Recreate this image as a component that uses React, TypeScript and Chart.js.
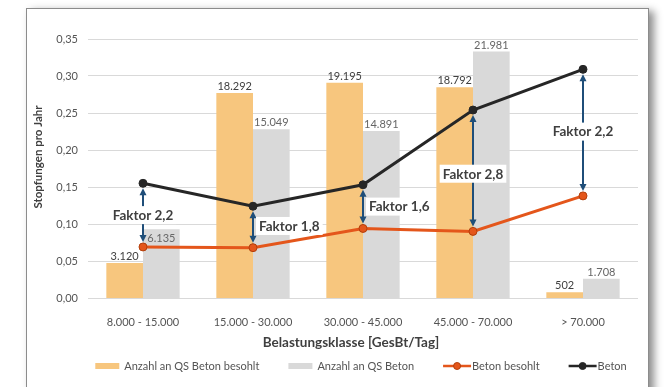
import React, { useEffect, useRef } from "react";
import { Chart, registerables } from "chart.js";

Chart.register(...registerables);

// Load classes (vehicle loads per day)
const categories = ["8.000 - 15.000", "15.000 - 30.000", "30.000 - 45.000", "45.000 - 70.000", "> 70.000"];
// Number of cross sections (bars, secondary hidden axis)
const qsBetonBesohlt = [3120, 18292, 19195, 18792, 502];
const qsBeton = [6135, 15049, 14891, 21981, 1708];
// Tamping operations per year (lines, primary axis)
const stopfBetonBesohlt = [0.069, 0.068, 0.094, 0.09, 0.138];
const stopfBeton = [0.155, 0.124, 0.153, 0.254, 0.309];
// Ratio annotations between both lines
const factorLabels = ["Faktor 2,2", "Faktor 1,8", "Faktor 1,6", "Faktor 2,8", "Faktor 2,2"];

const xTitle = "Belastungsklasse [GesBt/Tag]";
const yTitle = "Stopfungen pro Jahr";

const FONT = "Lato, 'Open Sans', sans-serif";
const TEXT = "#545454";
const DARK = "#3F3F3F";
const ORANGE_BAR = "#F7C67E";
const GRAY_BAR = "#D9D9D9";
const ORANGE_LINE = "#E4561B";
const BLACK_LINE = "#262626";
const ARROW = "#1F4E79";

const fmtThousands = (n: number) => String(n).replace(/\B(?=(\d{3})+(?!\d))/g, ".");

const overlayPlugin = {
  id: "overlay",
  afterDatasetsDraw(chart: any, _args: any, opts: any) {
    const { ctx, scales } = chart;
    const xs = scales.x;
    const ys = scales.y;

    // value labels above the bars
    ctx.save();
    ctx.font = `11px ${FONT}`;
    ctx.textAlign = "center";
    ctx.textBaseline = "middle";
    [0, 1].forEach((di) => {
      const meta = chart.getDatasetMeta(di);
      const values = chart.data.datasets[di].data as number[];
      meta.data.forEach((bar: any, i: number) => {
        const nudge = (opts.labelNudge && opts.labelNudge[`${di}:${i}`]) || 0;
        ctx.fillStyle = di === 0 ? DARK : "#666666";
        ctx.fillText(fmtThousands(values[i]), bar.x, bar.y - 6.5 + nudge);
      });
    });
    ctx.restore();

    // double-headed arrows with factor labels
    ctx.save();
    const gap = 5;
    const head = 7;
    const half = 3.5;
    factorLabels.forEach((label, i) => {
      const px = xs.getPixelForValue(i);
      const yTop = ys.getPixelForValue(stopfBeton[i]) + gap;
      const yBot = ys.getPixelForValue(stopfBetonBesohlt[i]) - gap;
      ctx.strokeStyle = ARROW;
      ctx.fillStyle = ARROW;
      ctx.lineWidth = 2;
      ctx.beginPath();
      ctx.moveTo(px, yTop + head - 1);
      ctx.lineTo(px, yBot - head + 1);
      ctx.stroke();
      ctx.beginPath();
      ctx.moveTo(px, yTop);
      ctx.lineTo(px - half, yTop + head);
      ctx.lineTo(px + half, yTop + head);
      ctx.closePath();
      ctx.fill();
      ctx.beginPath();
      ctx.moveTo(px, yBot);
      ctx.lineTo(px - half, yBot - head);
      ctx.lineTo(px + half, yBot - head);
      ctx.closePath();
      ctx.fill();

      ctx.font = `bold 13.5px ${FONT}`;
      const w = ctx.measureText(label).width;
      const mid = (yTop + yBot) / 2 + (opts.factorShift?.[i] || 0);
      const side = opts.factorSide?.[i] || "center";
      const left = side === "right" ? px + 6 : px - w / 2;
      ctx.fillStyle = "#FFFFFF";
      ctx.fillRect(left - 3, mid - 9, w + 6, 18);
      ctx.fillStyle = DARK;
      ctx.textAlign = "left";
      ctx.textBaseline = "middle";
      ctx.fillText(label, left, mid + 0.5);
    });
    ctx.restore();
  },
  afterDraw(chart: any, _args: any, opts: any) {
    const { ctx } = chart;

    // axis titles
    ctx.save();
    ctx.fillStyle = DARK;
    ctx.textAlign = "center";
    ctx.textBaseline = "middle";
    ctx.font = `bold 13.5px ${FONT}`;
    ctx.fillText(xTitle, opts.xTitleX, opts.xTitleY);
    ctx.translate(opts.yTitleX, opts.yTitleY);
    ctx.rotate(-Math.PI / 2);
    ctx.font = `bold 11.5px ${FONT}`;
    ctx.fillText(yTitle, 0, 0);
    ctx.restore();

    // legend
    ctx.save();
    ctx.font = `11px ${FONT}`;
    ctx.textBaseline = "middle";
    const symW = 26;
    const symGap = 3;
    const itemGap = 29;
    const items = chart.data.datasets.map((ds: any) => ({
      label: ds.label as string,
      kind: ds.type as string,
      color: (ds.type === "bar" ? ds.backgroundColor : ds.borderColor) as string,
      pointColor: ds.pointBackgroundColor as string,
      pointBorder: ds.pointBorderColor as string,
    }));
    const widths = items.map((it: any) => symW + symGap + ctx.measureText(it.label).width);
    const total = widths.reduce((a: number, b: number) => a + b, 0) + itemGap * (items.length - 1);
    let x = opts.legendCenterX - total / 2;
    const y = opts.legendY;
    items.forEach((it: any, i: number) => {
      if (it.kind === "bar") {
        ctx.fillStyle = it.color;
        ctx.fillRect(x, y - 3, symW - 2, 6);
      } else {
        ctx.strokeStyle = it.color;
        ctx.lineWidth = 2.5;
        ctx.beginPath();
        ctx.moveTo(x, y);
        ctx.lineTo(x + symW + 2, y);
        ctx.stroke();
        ctx.beginPath();
        ctx.arc(x + symW / 2 + 1, y, 3.5, 0, Math.PI * 2);
        ctx.fillStyle = it.pointColor;
        ctx.fill();
        ctx.lineWidth = 1;
        ctx.strokeStyle = it.pointBorder;
        ctx.stroke();
      }
      ctx.fillStyle = TEXT;
      ctx.textAlign = "left";
      ctx.fillText(it.label, x + symW + symGap, y);
      x += widths[i] + itemGap;
    });
    ctx.restore();
  },
};

export default function App() {
  const canvasRef = useRef<HTMLCanvasElement | null>(null);

  useEffect(() => {
    if (!canvasRef.current) return;
    const chart = new Chart(canvasRef.current, {
      type: "bar",
      data: {
        labels: categories,
        datasets: [
          {
            type: "bar",
            label: "Anzahl an QS Beton besohlt",
            data: qsBetonBesohlt,
            backgroundColor: ORANGE_BAR,
            yAxisID: "y2",
            order: 2,
            categoryPercentage: 2 / 3,
            barPercentage: 1,
          },
          {
            type: "bar",
            label: "Anzahl an QS Beton",
            data: qsBeton,
            backgroundColor: GRAY_BAR,
            yAxisID: "y2",
            order: 2,
            categoryPercentage: 2 / 3,
            barPercentage: 1,
          },
          {
            type: "line",
            label: "Beton besohlt",
            data: stopfBetonBesohlt,
            borderColor: ORANGE_LINE,
            borderWidth: 3,
            pointRadius: 4,
            pointBackgroundColor: ORANGE_LINE,
            pointBorderColor: "#B23F0C",
            pointBorderWidth: 1,
            yAxisID: "y",
            order: 1,
          },
          {
            type: "line",
            label: "Beton",
            data: stopfBeton,
            borderColor: BLACK_LINE,
            borderWidth: 3,
            pointRadius: 4,
            pointBackgroundColor: BLACK_LINE,
            pointBorderColor: BLACK_LINE,
            pointBorderWidth: 1,
            yAxisID: "y",
            order: 1,
          },
        ] as any,
      },
      options: {
        animation: false,
        responsive: false,
        maintainAspectRatio: false,
        layout: { padding: { left: 26, right: 28, top: 39, bottom: 0 } },
        plugins: {
          legend: { display: false },
          tooltip: { enabled: false },
          overlay: {
            labelNudge: { "1:0": 15.5 },
            factorSide: ["center", "right", "right", "center", "center"],
            factorShift: [0, -1, 0, 3, -1],
            xTitleX: 351,
            xTitleY: 343,
            yTitleX: 38,
            yTitleY: 157,
            legendCenterX: 361,
            legendY: 366,
          },
        } as any,
        scales: {
          x: {
            grid: { display: false },
            border: { display: false },
            ticks: { color: TEXT, padding: 10, font: { family: FONT, size: 11 }, maxRotation: 0 },
            afterFit: (s: any) => {
              s.height = 89;
            },
          },
          y: {
            position: "left",
            min: 0,
            max: 0.35,
            ticks: {
              stepSize: 0.05,
              padding: 10,
              color: TEXT,
              font: { family: FONT, size: 11 },
              callback: (v: any) => Number(v).toFixed(2).replace(".", ","),
            },
            grid: { color: "#D9D9D9", drawTicks: false, lineWidth: 1 },
            border: { display: false },
            afterFit: (s: any) => {
              s.width = 62;
            },
          },
          y2: {
            display: false,
            min: 0,
            max: 23100,
          },
        },
      },
      plugins: [overlayPlugin],
    });
    return () => chart.destroy();
  }, []);

  return (
    <div style={{ position: "absolute", left: 0, top: 0, width: 666, height: 387, overflow: "hidden", background: "#FFFFFF" }}>
      <div
        style={{
          position: "absolute",
          left: 26,
          top: 8,
          width: 621,
          height: 420,
          border: "1px solid #8C8C8C",
          background: "#FFFFFF",
          boxShadow: "5px 3px 8px rgba(0,0,0,0.45)",
        }}
      />
      <canvas ref={canvasRef} width={666} height={387} style={{ position: "absolute", left: 0, top: 0 }} />
    </div>
  );
}
